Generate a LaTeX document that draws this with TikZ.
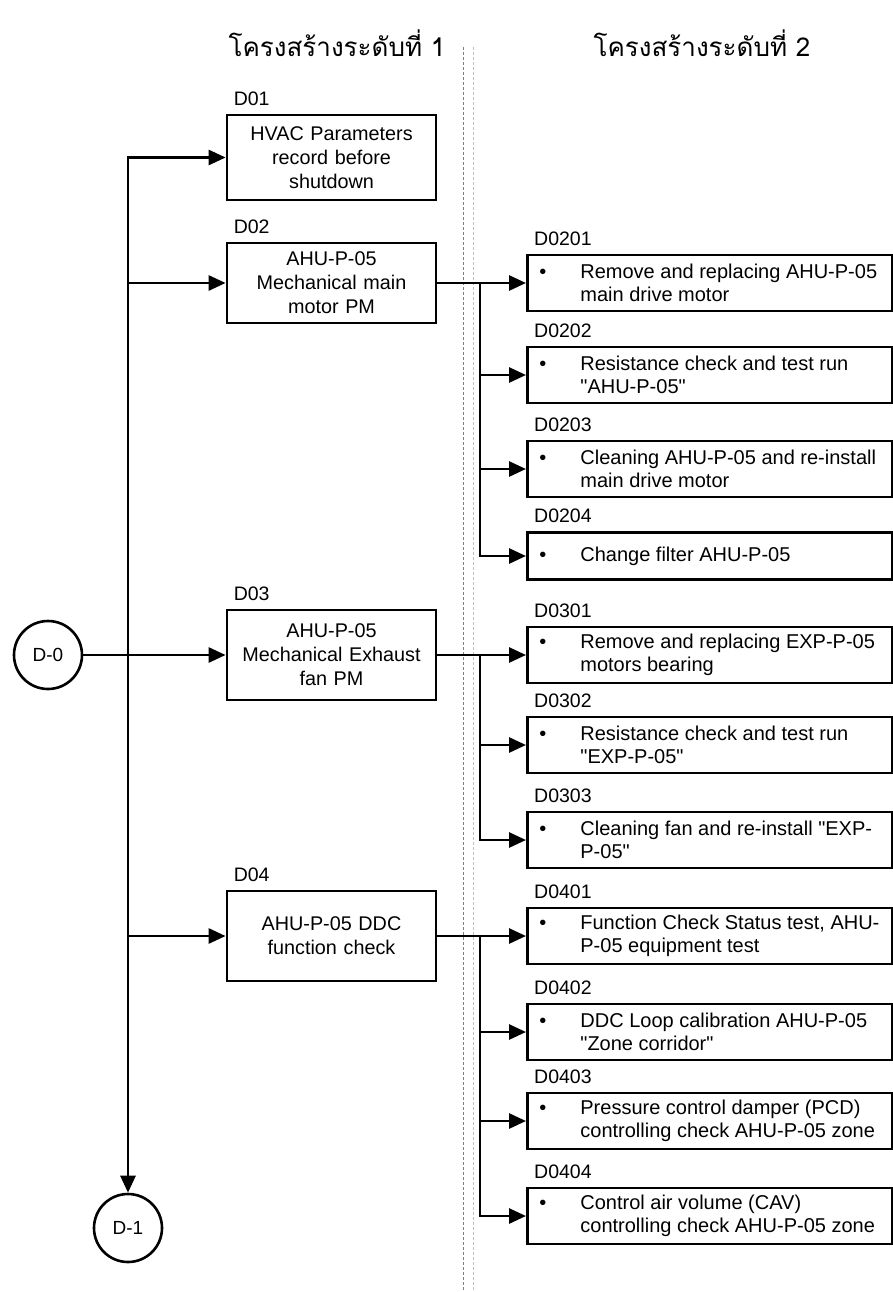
\documentclass[tikz,border=0pt]{standalone}
\usepackage{fontspec}
\newfontfamily\boxfont{Liberation Sans}
\newfontfamily\thaifont[Script=Thai]{Loma}
\usetikzlibrary{arrows.meta,positioning}
\tikzset{>={Triangle[length=17pt,width=15pt]}}

\newcommand{\bultext}[1]{\makebox[41pt][l]{\textbullet}\parbox[t]{300pt}{\raggedright #1}}

\begin{document}
\begin{tikzpicture}[x=1pt, y=-1pt,
  levelbox/.style={rectangle, draw=black, line width=2.8pt, minimum width=209pt,
    text width=200pt, align=center, font=\boxfont\fontsize{19.8}{24}\selectfont, inner sep=4pt},
  subbox/.style={rectangle, draw=black, line width=2.8pt, anchor=west,
    minimum height=56pt, inner xsep=12pt, inner ysep=6pt,
    font=\boxfont\fontsize{20}{23}\selectfont},
  endpoint/.style={circle, draw=black, line width=2.6pt, minimum size=68pt,
    inner sep=0pt, font=\boxfont\fontsize{19}{23}\selectfont},
  tag/.style={inner sep=0pt, font=\boxfont\fontsize{19.5}{24}\selectfont},
  flow/.style={->, line width=2.8pt},
  divider/.style={densely dashed, line width=0.7pt, black!50},
  heading/.style={font=\thaifont\fontsize{26}{30}\selectfont}
]
\useasboundingbox (0,0) rectangle (893,1292);

% ---------- Headings ----------
\node[heading] (head1) at (337,43) {โครงสร้างระดับที่ 1};
\node[heading] (head2) at (702,43) {โครงสร้างระดับที่ 2};

% ---------- Column divider ----------
\draw[divider] (463,47) -- (463,1292);
\draw[divider, black!25] (473,47) -- (473,1292);

% ---------- Start / end ----------
\node[endpoint] (d0) at (48,655) {D-0};
\node[endpoint] (d1) at (128,1228) {D-1};

% ---------- Level 1 ----------
\node[levelbox, minimum height=85pt] (d01) at (331.5,157.5)
  {HVAC Parameters\\record before\\shutdown};
\node[levelbox, minimum height=80pt] (d02) at (331.5,283)
  {AHU-P-05\\Mechanical main\\motor PM};
\node[levelbox, minimum height=90pt] (d03) at (331.5,655)
  {AHU-P-05\\Mechanical Exhaust\\fan PM};
\node[levelbox, minimum height=90pt] (d04) at (331.5,936)
  {AHU-P-05 DDC\\function check};

% ---------- Level 2 ----------
\node[subbox] (d0201) at (526,283) {\bultext{Remove and replacing AHU-P-05\\main drive motor}};
\node[subbox] (d0202) at (526,375) {\bultext{Resistance check and test run\\"AHU-P-05"}};
\node[subbox] (d0203) at (526,469) {\bultext{Cleaning AHU-P-05 and re-install\\main drive motor}};
\node[subbox, minimum height=47pt] (d0204) at (526,556) {\bultext{Change filter AHU-P-05}};

\node[subbox] (d0301) at (526,655) {\bultext{Remove and replacing EXP-P-05\\motors bearing}};
\node[subbox] (d0302) at (526,745) {\bultext{Resistance check and test run\\"EXP-P-05"}};
\node[subbox] (d0303) at (526,840) {\bultext{Cleaning fan and re-install "EXP-\\P-05"}};

\node[subbox] (d0401) at (526,936) {\bultext{Function Check Status test, AHU-\\P-05 equipment test}};
\node[subbox] (d0402) at (526,1032) {\bultext{DDC Loop calibration AHU-P-05\\"Zone corridor"}};
\node[subbox] (d0403) at (526,1121) {\bultext{Pressure control damper (PCD)\\controlling check AHU-P-05 zone}};
\node[subbox] (d0404) at (526,1216) {\bultext{Control air volume (CAV)\\controlling check AHU-P-05 zone}};

% ---------- Code tags ----------
\foreach \n/\t in {d01/D01,d02/D02,d03/D03,d04/D04,
    d0201/D0201,d0202/D0202,d0203/D0203,d0204/D0204,
    d0301/D0301,d0302/D0302,d0303/D0303,
    d0401/D0401,d0402/D0402,d0403/D0403,d0404/D0404}
  \node[tag, above right=8pt and 8pt of \n.north west] (\n tag) {\t};

% ---------- Main trunk ----------
\coordinate (split) at (128,157.5);
\draw[flow, <->] (d01.west) -| (d1.north);
\draw[flow] (split |- d02.west) -- (d02.west);
\draw[flow] (d0.east) -- (d03.west);
\draw[flow] (split |- d04.west) -- (d04.west);

% ---------- Branches ----------
\coordinate (j02) at (480,283);
\draw[flow] (d02.east) -- (d0201.west);
\foreach \s in {d0202,d0203,d0204} \draw[flow] (j02) |- (\s.west);

\coordinate (j03) at (480,655);
\draw[flow] (d03.east) -- (d0301.west);
\foreach \s in {d0302,d0303} \draw[flow] (j03) |- (\s.west);

\coordinate (j04) at (480,936);
\draw[flow] (d04.east) -- (d0401.west);
\foreach \s in {d0402,d0403,d0404} \draw[flow] (j04) |- (\s.west);

\end{tikzpicture}
\end{document}
